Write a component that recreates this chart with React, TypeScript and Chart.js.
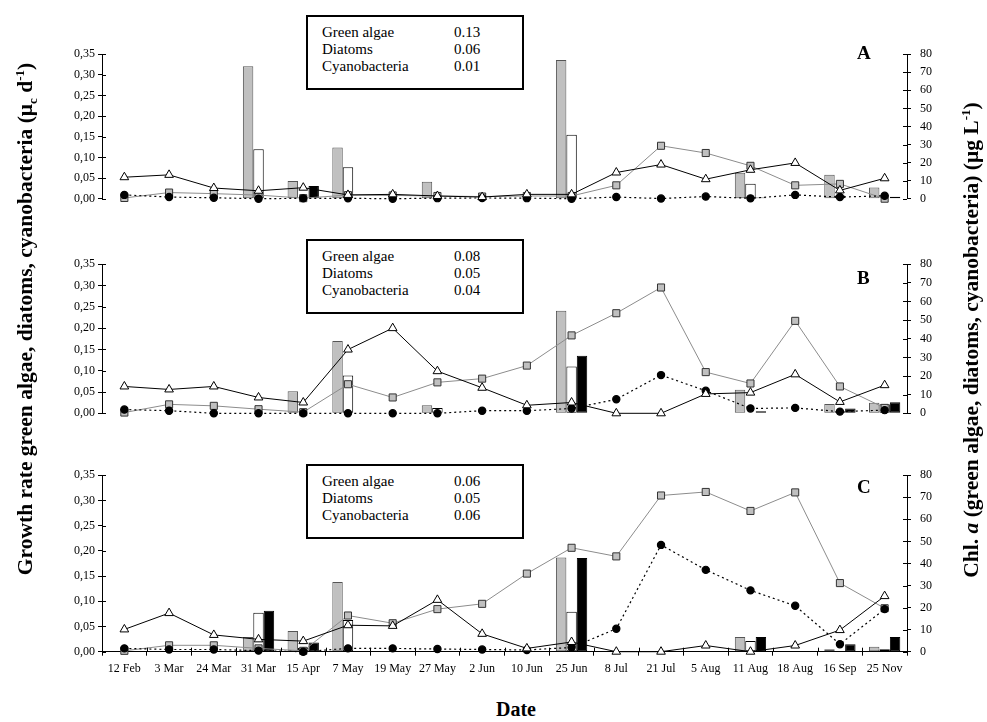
import React, { useEffect, useRef } from "react";
import { Chart, registerables } from "chart.js";
Chart.register(...registerables);

const dates = ["12 Feb", "3 Mar", "24 Mar", "31 Mar", "15 Apr", "7 May", "19 May", "27 May", "2 Jun", "10 Jun", "25 Jun", "8 Jul", "21 Jul", "5 Aug", "11 Aug", "18 Aug", "16 Sep", "25 Nov"];

const leftTicks = [0, 0.05, 0.1, 0.15, 0.2, 0.25, 0.3, 0.35];
const rightTicks = [0, 10, 20, 30, 40, 50, 60, 70, 80];

// Panel A
const greenGrowthA = [null, null, null, 0.321, 0.043, 0.124, null, 0.041, null, null, 0.336, null, null, null, 0.063, null, 0.058, 0.027];
const diatomGrowthA = [null, null, null, 0.12, null, 0.076, null, null, null, null, 0.155, null, null, null, 0.036, null, 0.008, null];
const cyanoGrowthA = [null, null, null, null, 0.031, null, null, null, null, null, null, null, null, null, 0.003, null, null, 0.005];
const greenChlA = [0.4, 3.4, 2.8, 2.0, 0.3, 2.0, 1.8, 1.5, 1.2, 1.5, 1.5, 7.4, 29.3, 25.3, 18.2, 7.4, 8.2, 0];
const diatomChlA = [11.9, 13.2, 5.9, 4.4, 6.1, 2.1, 2.4, 1.5, 0.9, 2.4, 2.4, 14.5, 18.9, 10.8, 16.0, 19.8, 4.6, 11.3];
const cyanoChlA = [2.1, 0.9, 0.5, 0, 0.2, 0.2, 0, 0.3, 0.4, 0.3, 0, 0.9, 0.1, 1.2, 0.2, 2.1, 0.9, 1.6];

// Panel B
const greenGrowthB = [null, null, null, null, 0.052, 0.17, null, 0.019, null, null, 0.241, null, null, null, 0.055, null, 0.022, 0.025];
const diatomGrowthB = [null, null, null, null, null, 0.089, null, 0.0125, null, null, 0.11, null, null, null, null, null, 0.005, 0.021];
const cyanoGrowthB = [null, null, null, null, null, null, null, null, null, null, 0.135, null, null, null, 0.005, null, 0.011, 0.026];
const greenChlB = [0.4, 4.8, 4.0, 2.2, 0.6, 15.6, 8.5, 16.6, 18.6, 25.6, 41.8, 53.7, 67.5, 22.1, 16.0, 49.6, 14.4, 2.9];
const diatomChlB = [14.4, 12.8, 14.4, 8.5, 5.8, 34.2, 45.7, 22.6, 13.7, 4.3, 5.8, 0, 0, 10.4, 11.1, 20.9, 6.1, 15.1];
const cyanoChlB = [2.0, 1.4, 0, 0, 0, 0, 0, 0, 1.4, 1.4, 2.6, 7.5, 20.5, 12.1, 2.6, 2.9, 0.9, 1.7];

// Panel C
const greenGrowthC = [null, null, null, 0.029, 0.041, 0.138, null, null, null, null, 0.187, null, null, null, 0.029, null, 0.005, 0.01];
const diatomGrowthC = [null, null, null, 0.077, 0.008, 0.063, null, null, null, null, 0.079, null, null, null, 0.021, null, null, 0.005];
const cyanoGrowthC = [null, null, null, 0.081, 0.018, null, null, null, null, null, 0.186, null, null, null, 0.029, null, 0.015, 0.029];
const greenChlC = [0.4, 2.9, 2.9, 1.5, 0.4, 16.4, 12.9, 19.3, 21.7, 35.4, 47.1, 43.2, 70.8, 72.4, 63.8, 72.2, 31.1, 19.7];
const diatomChlC = [10.1, 17.5, 7.6, 5.6, 4.8, 12.0, 11.7, 23.5, 8.1, 1.5, 4.4, 0, 0, 2.8, 0, 2.8, 9.8, 25.2];
const cyanoChlC = [1.5, 1.0, 1.0, 0.5, 0, 1.5, 1.5, 1.2, 1.0, 0.8, 1.9, 10.4, 48.4, 37.1, 27.8, 20.8, 3.4, 19.3];

const groupNames = ["Green algae", "Diatoms", "Cyanobacteria"];
const meanRatesA = ["0.13", "0.06", "0.01"];
const meanRatesB = ["0.08", "0.05", "0.04"];
const meanRatesC = ["0.06", "0.05", "0.06"];
const panelLetters = ["A", "B", "C"];

const SERIF = "'Liberation Serif', 'Times New Roman', serif";

const panels = [
  { top: 38, height: 200, showX: false, growth: [greenGrowthA, diatomGrowthA, cyanoGrowthA], chl: [greenChlA, diatomChlA, cyanoChlA] },
  { top: 248, height: 205, showX: false, growth: [greenGrowthB, diatomGrowthB, cyanoGrowthB], chl: [greenChlB, diatomChlB, cyanoChlB] },
  { top: 459, height: 230, showX: true, growth: [greenGrowthC, diatomGrowthC, cyanoGrowthC], chl: [greenChlC, diatomChlC, cyanoChlC] },
];

const innerTicks = {
  id: "innerTicks",
  afterDraw(chart: any) {
    const ctx = chart.ctx;
    const { left, right, bottom } = chart.chartArea;
    ctx.save();
    ctx.strokeStyle = "#000";
    ctx.lineWidth = 1;
    const yl = chart.scales.yL;
    const yr = chart.scales.yR;
    yl.ticks.forEach((_: any, i: number) => {
      const y = Math.round(yl.getPixelForTick(i)) + 0.5;
      ctx.beginPath();
      ctx.moveTo(left, y);
      ctx.lineTo(left + 4, y);
      ctx.stroke();
    });
    yr.ticks.forEach((_: any, i: number) => {
      const y = Math.round(yr.getPixelForTick(i)) + 0.5;
      ctx.beginPath();
      ctx.moveTo(right - 4, y);
      ctx.lineTo(right, y);
      ctx.stroke();
    });
    if (chart.options.plugins.innerTicks && chart.options.plugins.innerTicks.x) {
      const xs = chart.scales.x;
      const n = xs.ticks.length;
      const w = (right - left) / n;
      for (let i = 0; i <= n; i++) {
        const x = Math.round(left + i * w) + 0.5;
        ctx.beginPath();
        ctx.moveTo(x, bottom);
        ctx.lineTo(x, bottom - 4);
        ctx.stroke();
      }
    }
    ctx.restore();
  },
};

function makeConfig(p: any) {
  const padTop = 10.3;
  const areaHeights = [180.4, 185, 182.4];
  const idx = panels.indexOf(p);
  const xHeight = 30;
  const padBottom = p.showX ? p.height - padTop - areaHeights[idx] - xHeight : p.height - padTop - areaHeights[idx];
  const barCommon = { yAxisID: "yL", order: 3, barPercentage: 1.0, categoryPercentage: 0.7, borderWidth: 1, borderSkipped: false, clip: false as any };
  return {
    type: "bar" as const,
    data: {
      labels: dates,
      datasets: [
        { ...barCommon, type: "bar", label: "Green algae growth", data: p.growth[0], backgroundColor: "#c0c0c0", borderColor: "#555" },
        { ...barCommon, type: "bar", label: "Diatoms growth", data: p.growth[1], backgroundColor: "#ffffff", borderColor: "#000" },
        { ...barCommon, type: "bar", label: "Cyanobacteria growth", data: p.growth[2], backgroundColor: "#000", borderColor: "#000" },
        { type: "line", label: "Green algae Chl a", yAxisID: "yR", order: 2, data: p.chl[0], borderColor: "#8c8c8c", borderWidth: 1, pointStyle: "rect", pointRadius: 5, pointBackgroundColor: "#c0c0c0", pointBorderColor: "#333", pointBorderWidth: 1, clip: false, tension: 0 },
        { type: "line", label: "Cyanobacteria Chl a", yAxisID: "yR", order: 1, data: p.chl[2], borderColor: "#000", borderWidth: 1.2, borderDash: [2, 3], pointStyle: "circle", pointRadius: 3.6, pointBackgroundColor: "#000", pointBorderColor: "#000", clip: false, tension: 0 },
        { type: "line", label: "Diatoms Chl a", yAxisID: "yR", order: 0, data: p.chl[1], borderColor: "#000", borderWidth: 1, pointStyle: "triangle", pointRadius: 5, pointBackgroundColor: "#fff", pointBorderColor: "#000", pointBorderWidth: 1, clip: false, tension: 0 },
      ],
    },
    options: {
      responsive: false,
      animation: false,
      events: [],
      layout: { padding: { left: 0, right: 0, top: padTop, bottom: padBottom } },
      plugins: { legend: { display: false }, tooltip: { enabled: false }, innerTicks: { x: p.showX } },
      scales: {
        x: {
          type: "category",
          display: p.showX,
          offset: true,
          grid: { display: true, drawOnChartArea: false, drawTicks: true, tickLength: 4, color: "#000", offset: true },
          border: { display: true, color: "#000", width: 1 },
          ticks: { color: "#000", font: { family: SERIF, size: 12 }, padding: 6, maxRotation: 0, autoSkip: false },
          afterFit: (s: any) => { s.height = xHeight; },
        },
        yL: {
          type: "linear",
          position: "left",
          min: 0,
          max: 0.35,
          afterBuildTicks: (s: any) => { s.ticks = leftTicks.map((v) => ({ value: v })); },
          ticks: { color: "#000", font: { family: SERIF, size: 12 }, padding: 3, callback: (v: any) => Number(v).toFixed(2).replace(".", ",") },
          grid: { display: true, drawOnChartArea: false, tickLength: 4, color: "#000" },
          border: { display: true, color: "#000", width: 1 },
          afterFit: (s: any) => { s.width = 102; },
        },
        yR: {
          type: "linear",
          position: "right",
          min: 0,
          max: 80,
          afterBuildTicks: (s: any) => { s.ticks = rightTicks.map((v) => ({ value: v })); },
          ticks: { color: "#000", font: { family: SERIF, size: 12 }, padding: 9, callback: (v: any) => String(v) },
          grid: { display: true, drawOnChartArea: false, tickLength: 4, color: "#000" },
          border: { display: true, color: "#000", width: 1 },
          afterFit: (s: any) => { s.width = 80; },
        },
      },
    },
    plugins: [innerTicks],
  };
}

function Panel({ p }: { p: any }) {
  const ref = useRef<HTMLCanvasElement>(null);
  useEffect(() => {
    const chart = new Chart(ref.current as HTMLCanvasElement, makeConfig(p) as any);
    return () => chart.destroy();
  }, []);
  return (
    <canvas
      ref={ref}
      width={987}
      height={p.height}
      style={{ position: "absolute", left: 0, top: p.top, width: 987, height: p.height }}
    />
  );
}

function InfoBox({ top, values }: { top: number; values: string[] }) {
  return (
    <div
      style={{
        position: "absolute",
        left: 306,
        top,
        width: 218,
        height: 75,
        boxSizing: "border-box",
        border: "2px solid #000",
        background: "#fff",
        fontFamily: SERIF,
        fontSize: 15,
        lineHeight: "17px",
        paddingTop: 7,
        paddingLeft: 14,
        color: "#000",
      }}
    >
      {groupNames.map((g, i) => (
        <div key={g} style={{ display: "flex" }}>
          <span style={{ width: 132 }}>{g}</span>
          <span>{values[i]}</span>
        </div>
      ))}
    </div>
  );
}

export default function App() {
  const boxes = [
    { top: 15, values: meanRatesA },
    { top: 239, values: meanRatesB },
    { top: 464, values: meanRatesC },
  ];
  const letterTops = [42, 267, 476];
  const titleStyle: any = {
    position: "absolute",
    width: 700,
    height: 26,
    lineHeight: "26px",
    textAlign: "center",
    transform: "rotate(-90deg)",
    fontFamily: SERIF,
    fontWeight: "bold",
    fontSize: 21.5,
    whiteSpace: "nowrap",
  };
  return (
    <div style={{ position: "fixed", left: 0, top: 0, width: 987, height: 722, background: "#fff", overflow: "hidden" }}>
      {panels.map((p, i) => (
        <Panel key={i} p={p} />
      ))}
      {boxes.map((b, i) => (
        <InfoBox key={i} top={b.top} values={b.values} />
      ))}
      {panelLetters.map((l, i) => (
        <div key={l} style={{ position: "absolute", left: 857, top: letterTops[i], fontFamily: SERIF, fontWeight: "bold", fontSize: 19, lineHeight: "22px" }}>
          {l}
        </div>
      ))}
      <div style={{ ...titleStyle, left: 20 - 350, top: 319 - 13 }}>
        Growth rate green algae, diatoms, cyanobacteria (μ<sub style={{ fontSize: 13 }}>c</sub> d<sup style={{ fontSize: 13 }}>-1</sup>)
      </div>
      <div style={{ ...titleStyle, left: 966 - 350, top: 340 - 13 }}>
        Chl. <i>a</i> (green algae, diatoms, cyanobacteria) (μg L<sup style={{ fontSize: 13 }}>-1</sup>)
      </div>
      <div
        style={{
          position: "absolute",
          left: 416,
          top: 698,
          width: 200,
          textAlign: "center",
          fontFamily: SERIF,
          fontWeight: "bold",
          fontSize: 20,
          lineHeight: "22px",
        }}
      >
        Date
      </div>
    </div>
  );
}
